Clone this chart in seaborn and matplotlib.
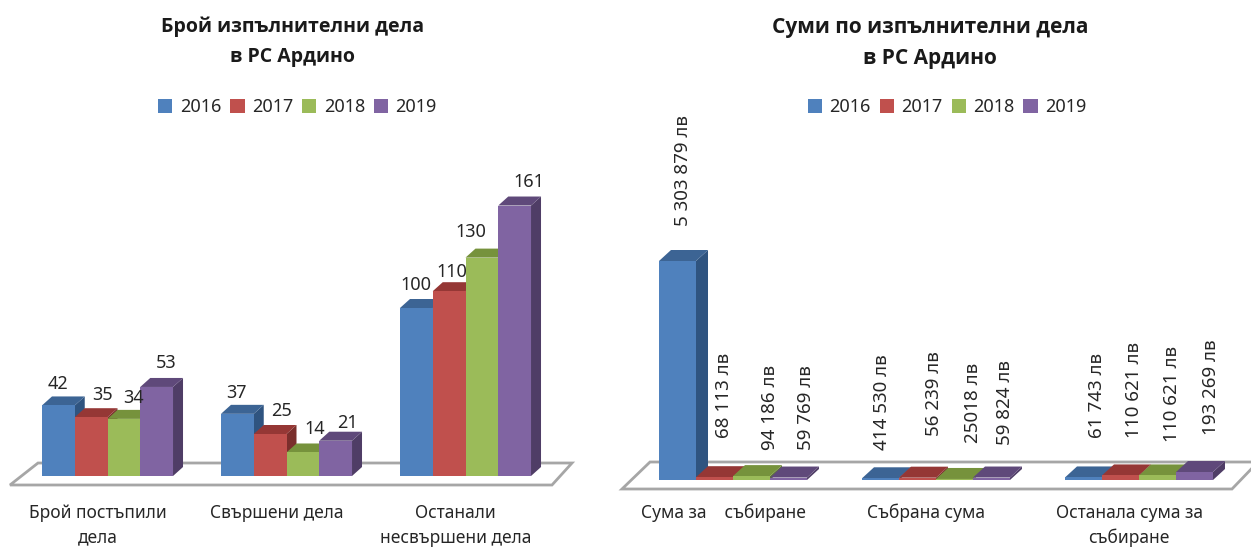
# Import Statements
from matplotlib import pyplot as plt
from matplotlib.patches import Polygon
from matplotlib.transforms import Affine2D, ScaledTranslation
import pandas as pd
import seaborn as sns

# Variable Definition
years = ['2016', '2017', '2018', '2019']
colors = ['#4F81BD', '#C0504D', '#9BBB59', '#8064A2']
top_colors = ['#3C6494', '#953735', '#76923C', '#5F497A']
side_colors = ['#2F5480', '#7A2E2C', '#5F7A31', '#4F3D66']

count_categories = ['Брой постъпили\nдела', 'Свършени дела', 'Останали\nнесвършени дела']
count_2016 = [42, 37, 100]
count_2017 = [35, 25, 110]
count_2018 = [34, 14, 130]
count_2019 = [53, 21, 161]

sum_categories = ['Сума за    събиране', 'Събрана сума', 'Останала сума за\nсъбиране']
sum_2016 = [5303879, 41453, 61743]
sum_2017 = [68113, 56239, 110621]
sum_2018 = [94186, 25018, 110621]
sum_2019 = [59769, 59824, 193269]

# Labels as typed on the chart, they do not always follow the bar height
sum_labels_2016 = ['5 303 879 лв', '414 530 лв', '61 743 лв']
sum_labels_2017 = ['68 113 лв', '56 239 лв', '110 621 лв']
sum_labels_2018 = ['94 186 лв', '25018 лв', '110 621 лв']
sum_labels_2019 = ['59 769 лв', '59 824 лв', '193 269 лв']

# Hand placed data labels, pixel offset from top of bar (per year, per category)
count_nudge = [[(0, 21), (-1, 21), (0, 23)],
               [(11, 22), (11, 23), (3, 19)],
               [(10, 21), (12, 23), (-11, 26)],
               [(9, 24), (12, 18), (14, 24)]]
sum_nudge = [[(5, 90), (1, 76), (13, 82)],
             [(9, 82), (16, 84), (13, 85)],
             [(19, 69), (19, 76), (15, 81)],
             [(18, 70), (14, 75), (17, 85)]]

text_color = '#262626'
font_size = 12.5

sns.set_theme(style='white')
plt.rcParams['font.family'] = ['Noto Sans', 'DejaVu Sans']

fig = plt.figure(figsize=(12.51, 5.49), dpi=100)
# Top-left pixel coordinates, same as the picture
pix = Affine2D().scale(1, -1).translate(0, 549)

def make_axes(left, right, top, bottom):
    return fig.add_axes([left / 1251, 1 - bottom / 549, (right - left) / 1251, (bottom - top) / 549])

def long_table(categories, series):
    rows = []
    for year, values in zip(years, series):
        for category, value in zip(categories, values):
            rows.append({'category': category, 'year': year, 'value': value})
    return pd.DataFrame(rows)

def draw_panel(ax, categories, series, labels, nudge, ymax, bar_width, depth, floor, tick_pad,
               title, title_x, title_y, title_size, legend_center, rotation, label_size):
    data = long_table(categories, series)
    sns.barplot(data=data, x='category', y='value', hue='year', hue_order=years, palette=colors,
                order=categories, width=bar_width, gap=0, saturation=1, ax=ax, zorder=10,
                edgecolor='none', linewidth=0)
    ax.set_xlim(-0.5, 2.5)
    ax.set_ylim(0, ymax)
    ax.patch.set_visible(False)
    ax.set_xlabel('')
    ax.set_ylabel('')
    ax.set_yticks([])
    sns.despine(ax=ax, left=True, bottom=True)

    # Category labels sit under the floor, which is shifted left of the bars
    ax.tick_params(axis='x', length=0, pad=tick_pad, labelsize=font_size, labelcolor=text_color)
    shift = ScaledTranslation(-10 / 100, 0, fig.dpi_scale_trans)
    for tick_label in ax.get_xticklabels():
        tick_label.set_transform(tick_label.get_transform() + shift)
        tick_label.set_linespacing(1.5)

    ax.add_patch(Polygon(floor, closed=True, facecolor='white', edgecolor='#A6A6A6', linewidth=2,
                         transform=pix, clip_on=False, zorder=1))

    # Fake 3D: top and side faces from each bar, left to right, fronts stay on top
    bbox = ax.get_window_extent()
    depth_x = depth[0] * 3 / bbox.width
    depth_y = depth[1] * ymax / bbox.height
    containers = list(ax.containers)
    for cat_idx in range(len(categories)):
        for year_idx, container in enumerate(containers):
            bar = container[cat_idx]
            x0 = bar.get_x()
            x1 = x0 + bar.get_width()
            h = bar.get_height()
            side = [(x1, 0), (x1 + depth_x, depth_y), (x1 + depth_x, h + depth_y), (x1, h)]
            top = [(x0, h), (x0 + depth_x, h + depth_y), (x1 + depth_x, h + depth_y), (x1, h)]
            order = 3 + cat_idx + year_idx * 0.1
            ax.add_patch(Polygon(side, closed=True, facecolor=side_colors[year_idx], edgecolor='none',
                                 clip_on=False, zorder=order))
            ax.add_patch(Polygon(top, closed=True, facecolor=top_colors[year_idx], edgecolor='none',
                                 clip_on=False, zorder=order + 0.01))
            ax.annotate(labels[year_idx][cat_idx], xy=(x0 + bar.get_width() / 2, h),
                        xytext=nudge[year_idx][cat_idx], textcoords='offset pixels',
                        ha='center', va='center', rotation=rotation, fontsize=label_size,
                        color=text_color, zorder=20, annotation_clip=False)

    fig.text(title_x / 1251, 1 - title_y / 549, title, ha='center', va='center', fontsize=title_size,
             fontweight='bold', family=['Open Sans', 'DejaVu Sans'], color='#1A1A1A', linespacing=1.65)
    sns.move_legend(ax, 'center', bbox_to_anchor=(legend_center / 1251, 1 - 107 / 549),
                    bbox_transform=fig.transFigure, ncol=4, frameon=False, title=None,
                    fontsize=13, handlelength=0.8, handleheight=0.8, handletextpad=0.4,
                    columnspacing=0.5, labelcolor=text_color)

# Left panel, 1.68 px per case
ax_left = make_axes(18, 555, 120, 476)
draw_panel(ax_left, count_categories, [count_2016, count_2017, count_2018, count_2019],
           [[str(v) for v in s] for s in (count_2016, count_2017, count_2018, count_2019)],
           count_nudge, 356 / 1.68, 0.732, (10, 9),
           [(10, 485), (552, 485), (572, 463), (38, 463)], 20,
           'Брой изпълнителни дела\nв РС Ардино', 293, 41.5, 14, 297.5, 0, 13)

# Right panel, first bar is 219 px high
ax_right = make_axes(631.5, 1240.5, 120, 480)
draw_panel(ax_right, sum_categories, [sum_2016, sum_2017, sum_2018, sum_2019],
           [sum_labels_2016, sum_labels_2017, sum_labels_2018, sum_labels_2019],
           sum_nudge, 360 * 5303879 / 219, 0.729, (12, 11),
           [(622, 489), (1232, 489), (1258, 462), (650, 462)], 17,
           'Суми по изпълнителни дела\nв РС Ардино', 930, 43, 15, 947, 90, 13.5)

plt.savefig('out.png', dpi=100)
